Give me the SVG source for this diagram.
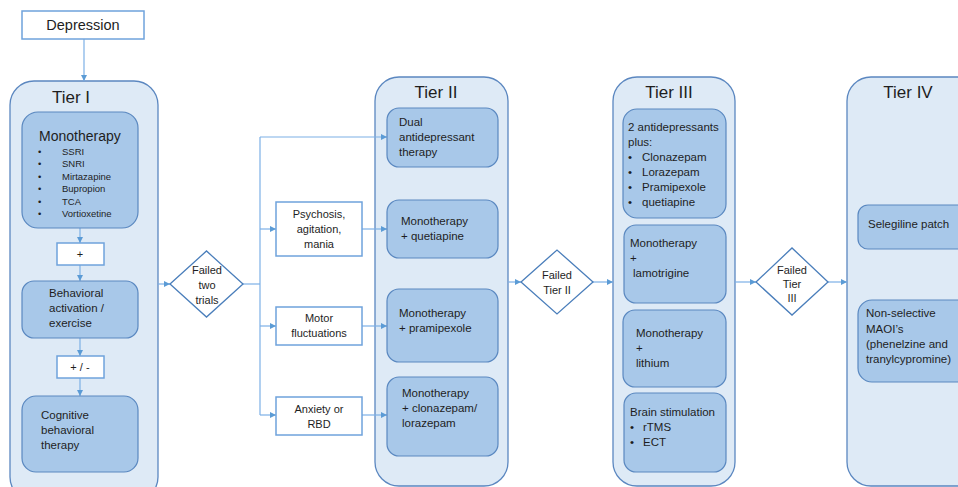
<svg xmlns="http://www.w3.org/2000/svg" width="958" height="487" viewBox="0 0 958 487">
<defs>
<marker id="arr" markerWidth="8" markerHeight="8" refX="6" refY="3" orient="auto" markerUnits="userSpaceOnUse">
<path d="M0,0 L6,3 L0,6 z" fill="#5b9bd5"/>
</marker>
<style>
text{font-family:"Liberation Sans",Arial,sans-serif;fill:#1e1e1e;}
.tier{fill:#deeaf6;stroke:#5b87c0;stroke-width:1.3;}
.inner{fill:#a8c8e9;stroke:#5a88c0;stroke-width:1.2;}
.wbox{fill:#ffffff;stroke:#6fa3dc;stroke-width:1.5;}
.dia{fill:#ffffff;stroke:#4a7ebb;stroke-width:1.3;}
.con{fill:none;stroke:#7cb0e6;stroke-width:1.2;}
.arw{fill:none;stroke:#7cb0e6;stroke-width:1.2;marker-end:url(#arr);}
.title{font-size:17px;text-anchor:middle;}
.t{font-size:11.5px;}
.s{font-size:9.5px;}
.c{font-size:11px;text-anchor:middle;}
</style>
</defs>
<rect width="958" height="487" fill="#ffffff"/>

<g id="tier1">
<rect class="tier" x="10" y="81" width="148" height="420" rx="24"/>
<text class="title" x="71" y="103">Tier I</text>
</g>
<g id="tier2">
<rect class="tier" x="375" y="77" width="133" height="409" rx="24"/>
<text class="title" x="436" y="98">Tier II</text>
</g>
<g id="tier3">
<rect class="tier" x="613" y="77" width="122" height="409" rx="24"/>
<text class="title" x="669" y="98">Tier III</text>
</g>
<g id="tier4">
<rect class="tier" x="847" y="77" width="140" height="409" rx="24"/>
<text class="title" x="908" y="98">Tier IV</text>
</g>

<g id="connectors">
<line class="arw" x1="84" y1="39" x2="84" y2="81"/>
<line class="arw" x1="80" y1="228" x2="80" y2="243"/>
<line class="arw" x1="80" y1="265" x2="80" y2="281"/>
<line class="arw" x1="80" y1="338" x2="80" y2="356"/>
<line class="arw" x1="80" y1="378" x2="80" y2="396"/>
<line class="arw" x1="158" y1="284" x2="170" y2="284"/>
<polyline class="con" points="243,284 260,284"/>
<line class="con" x1="260" y1="137" x2="260" y2="415"/>
<line class="arw" x1="260" y1="137" x2="387" y2="137"/>
<line class="arw" x1="260" y1="229" x2="276" y2="229"/>
<line class="arw" x1="260" y1="326" x2="276" y2="326"/>
<line class="arw" x1="260" y1="415" x2="276" y2="415"/>
<line class="arw" x1="362" y1="229" x2="387" y2="229"/>
<line class="arw" x1="362" y1="326" x2="387" y2="326"/>
<line class="arw" x1="362" y1="415" x2="387" y2="415"/>
<line class="arw" x1="508" y1="282" x2="521" y2="282"/>
<line class="arw" x1="593" y1="282" x2="613" y2="282"/>
<line class="arw" x1="735" y1="282" x2="756" y2="282"/>
<line class="arw" x1="828" y1="282" x2="847" y2="282"/>
</g>

<g id="depression">
<rect class="wbox" x="22" y="11" width="122" height="28"/>
<text x="83" y="30" style="font-size:14.5px;text-anchor:middle">Depression</text>
</g>

<g id="monotherapy1">
<rect class="inner" x="22" y="112" width="116" height="116" rx="16"/>
<text x="39" y="141" style="font-size:14px">Monotherapy</text>
<g class="s">
<text x="38" y="155">•</text><text x="62" y="155">SSRI</text>
<text x="38" y="167">•</text><text x="62" y="167">SNRI</text>
<text x="38" y="180">•</text><text x="62" y="180">Mirtazapine</text>
<text x="38" y="192">•</text><text x="62" y="192">Bupropion</text>
<text x="38" y="205">•</text><text x="62" y="205">TCA</text>
<text x="38" y="217">•</text><text x="62" y="217">Vortioxetine</text>
</g>
</g>
<g id="plus1">
<rect class="wbox" x="57" y="243" width="47" height="22"/>
<text class="c" x="80" y="258">+</text>
</g>
<g id="behavioral">
<rect class="inner" x="22" y="281" width="116" height="57" rx="12"/>
<text class="t" x="49" y="297">Behavioral</text>
<text class="t" x="49" y="312">activation /</text>
<text class="t" x="49" y="327">exercise</text>
</g>
<g id="plusminus">
<rect class="wbox" x="57" y="356" width="47" height="22"/>
<text class="c" x="80" y="371">+ / -</text>
</g>
<g id="cbt">
<rect class="inner" x="22" y="396" width="116" height="76" rx="14"/>
<text class="t" x="41" y="419">Cognitive</text>
<text class="t" x="41" y="434">behavioral</text>
<text class="t" x="41" y="449">therapy</text>
</g>

<g id="failed-two">
<polygon class="dia" points="170,284 206.5,251 243,284 206.5,317"/>
<text class="c" x="207" y="274">Failed</text>
<text class="c" x="207" y="289">two</text>
<text class="c" x="207" y="304">trials</text>
</g>

<g id="psychosis">
<rect class="wbox" x="276" y="202" width="86" height="54"/>
<text class="c" x="319" y="218">Psychosis,</text>
<text class="c" x="319" y="233">agitation,</text>
<text class="c" x="319" y="248">mania</text>
</g>
<g id="motor">
<rect class="wbox" x="276" y="307" width="86" height="38"/>
<text class="c" x="319" y="322">Motor</text>
<text class="c" x="319" y="337">fluctuations</text>
</g>
<g id="anxiety">
<rect class="wbox" x="276" y="397" width="86" height="38"/>
<text class="c" x="319" y="413">Anxiety or</text>
<text class="c" x="319" y="428">RBD</text>
</g>

<g id="dual">
<rect class="inner" x="387" y="108" width="111" height="59" rx="12"/>
<text class="t" x="399" y="126">Dual</text>
<text class="t" x="399" y="141">antidepressant</text>
<text class="t" x="399" y="156">therapy</text>
</g>
<g id="mono-quetiapine">
<rect class="inner" x="387" y="200" width="111" height="58" rx="12"/>
<text class="t" x="401" y="225">Monotherapy</text>
<text class="t" x="401" y="240">+ quetiapine</text>
</g>
<g id="mono-pramipexole">
<rect class="inner" x="387" y="289" width="111" height="73" rx="12"/>
<text class="t" x="399" y="317">Monotherapy</text>
<text class="t" x="399" y="332">+ pramipexole</text>
</g>
<g id="mono-clonazepam">
<rect class="inner" x="387" y="377" width="111" height="79" rx="12"/>
<text class="t" x="402" y="397">Monotherapy</text>
<text class="t" x="402" y="412">+ clonazepam/</text>
<text class="t" x="402" y="427">lorazepam</text>
</g>

<g id="failed-tier2">
<polygon class="dia" points="521,282 557,250 593,282 557,314"/>
<text class="c" x="557" y="279">Failed</text>
<text class="c" x="557" y="294">Tier II</text>
</g>

<g id="two-antidepressants">
<rect class="inner" x="623" y="109" width="103" height="109" rx="14"/>
<text class="t" x="628" y="131">2 antidepressants</text>
<text class="t" x="628" y="146">plus:</text>
<text class="t" x="628" y="161">•</text><text class="t" x="642" y="161">Clonazepam</text>
<text class="t" x="628" y="176">•</text><text class="t" x="642" y="176">Lorazepam</text>
<text class="t" x="628" y="191">•</text><text class="t" x="642" y="191">Pramipexole</text>
<text class="t" x="628" y="206">•</text><text class="t" x="642" y="206">quetiapine</text>
</g>
<g id="mono-lamotrigine">
<rect class="inner" x="624" y="225" width="102" height="78" rx="12"/>
<text class="t" x="630" y="247">Monotherapy</text>
<text class="t" x="630" y="262">+</text>
<text class="t" x="633" y="277">lamotrigine</text>
</g>
<g id="mono-lithium">
<rect class="inner" x="623" y="310" width="103" height="77" rx="12"/>
<text class="t" x="636" y="337">Monotherapy</text>
<text class="t" x="636" y="352">+</text>
<text class="t" x="636" y="367">lithium</text>
</g>
<g id="brain-stimulation">
<rect class="inner" x="624" y="393" width="102" height="79" rx="12"/>
<text class="t" x="630" y="416">Brain stimulation</text>
<text class="t" x="630" y="431">•</text><text class="t" x="643" y="431">rTMS</text>
<text class="t" x="630" y="446">•</text><text class="t" x="643" y="446">ECT</text>
</g>

<g id="failed-tier3">
<polygon class="dia" points="756,282 792,248 828,282 792,315"/>
<text class="c" x="792" y="274">Failed</text>
<text class="c" x="792" y="288">Tier</text>
<text class="c" x="792" y="302">III</text>
</g>

<g id="selegiline">
<rect class="inner" x="858" y="205" width="120" height="44" rx="10"/>
<text class="t" x="868" y="228">Selegiline patch</text>
</g>
<g id="maoi">
<rect class="inner" x="858" y="300" width="120" height="82" rx="14"/>
<text class="t" x="866" y="317">Non-selective</text>
<text class="t" x="866" y="333">MAOI’s</text>
<text class="t" x="866" y="348">(phenelzine and</text>
<text class="t" x="866" y="363">tranylcypromine)</text>
</g>
</svg>
